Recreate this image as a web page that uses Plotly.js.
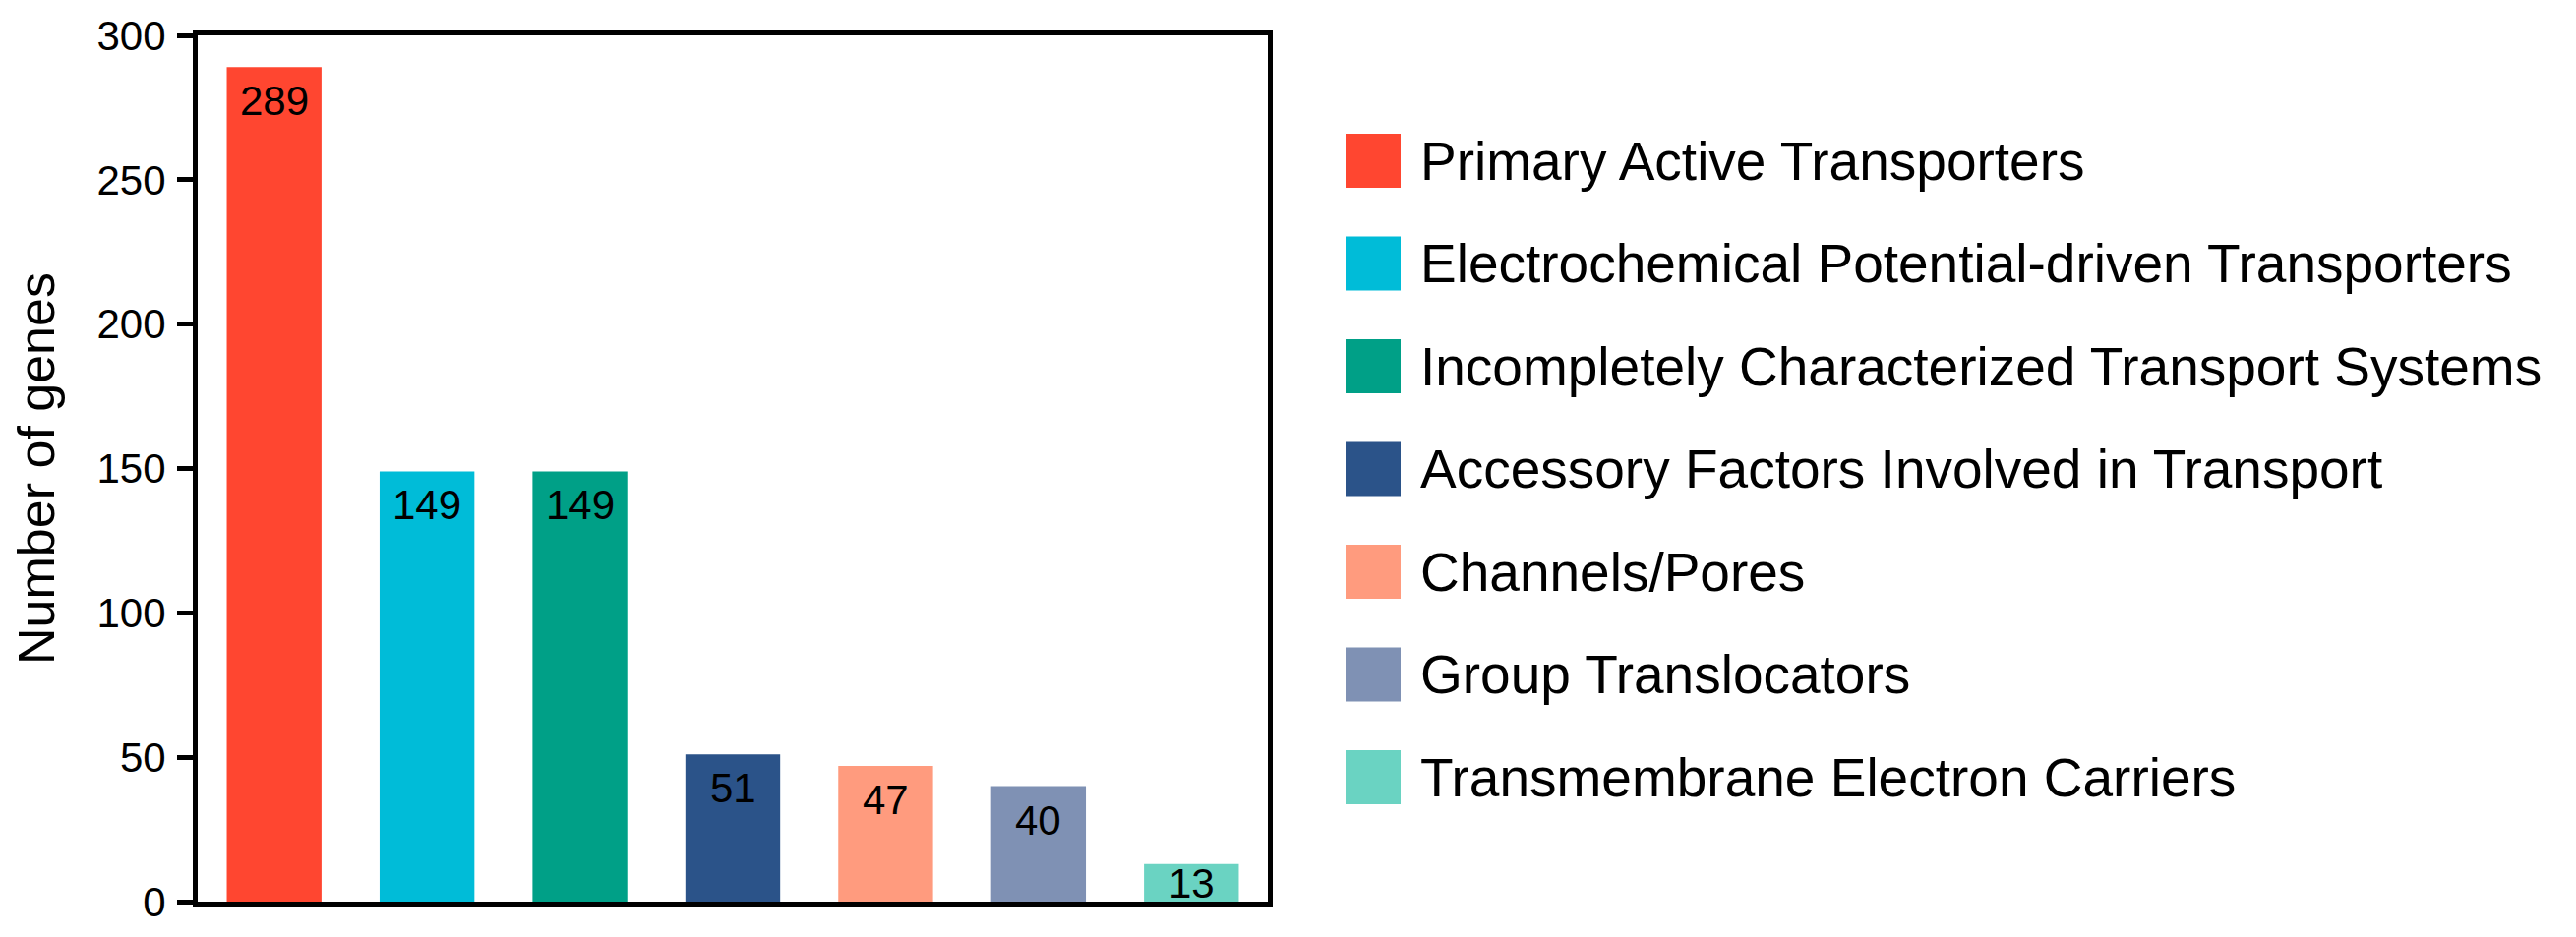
<!DOCTYPE html>
<html>
<head>
<meta charset="utf-8">
<script src="https://cdn.plot.ly/plotly-3.0.1.min.js"></script>
<style>
  html, body { margin: 0; padding: 0; background: #ffffff; }
  #chart { width: 2619px; height: 953px; }
</style>
</head>
<body>
<div id="chart"></div>
<script>
// ---- Data ----
const categories = [
  "Primary Active Transporters",
  "Electrochemical Potential-driven Transporters",
  "Incompletely Characterized Transport Systems",
  "Accessory Factors Involved in Transport",
  "Channels/Pores",
  "Group Translocators",
  "Transmembrane Electron Carriers"
];
const geneCounts = [289, 149, 149, 51, 47, 40, 13];
const barColors = ["#FF4630", "#00BCD8", "#00A087", "#2B5389", "#FF9B7E", "#7F91B4", "#6AD3C2"];
const yTicks = [0, 50, 100, 150, 200, 250, 300];
const yTitle = "Number of genes";

// ---- Layout constants (pixels) ----
const W = 2619, H = 953;
const plotL = 201, plotR = 1289, plotT = 36, plotB = 917;
const FONT = "Arial, 'Liberation Sans', Helvetica, sans-serif";
const xp = px => (px - plotL) / (plotR - plotL);
const yp = py => (plotB - py) / (plotB - plotT);
const pxPerUnit = (plotB - plotT) / 300;

const trace = {
  type: "bar",
  x: categories,
  y: geneCounts,
  marker: { color: barColors, line: { width: 0 } },
  hoverinfo: "x+y",
  showlegend: false
};

const annotations = [];
const shapes = [];

// value labels on bars
geneCounts.forEach((v, i) => {
  const fits = v * pxPerUnit > 60;
  annotations.push({
    x: categories[i], y: v, xref: "x", yref: "y",
    text: String(v), showarrow: false,
    xanchor: "center", yanchor: "top",
    yshift: fits ? -9 : 6,
    font: { family: FONT, size: 42, color: "#000000" }
  });
});

// custom legend (large squares)
const legTop = 163.5, legStep = 104.5, sq = 56, sqX0 = 1368, txtX = 1442;
categories.forEach((c, i) => {
  const yc = legTop + i * legStep;
  shapes.push({
    type: "rect", xref: "paper", yref: "paper",
    x0: xp(sqX0), x1: xp(sqX0 + sq),
    y0: yp(yc + sq / 2 - 0.5), y1: yp(yc - sq / 2 + 0.5),
    fillcolor: barColors[i], line: { width: 0 }
  });
  annotations.push({
    x: xp(txtX), y: yp(yc), xref: "paper", yref: "paper",
    text: c, showarrow: false, xanchor: "left", yanchor: "middle",
    font: { family: FONT, size: 55, color: "#000000" }
  });
});

const layout = {
  width: W, height: H,
  margin: { l: plotL, r: W - plotR, t: plotT, b: H - plotB, pad: 0 },
  paper_bgcolor: "#ffffff",
  plot_bgcolor: "#ffffff",
  font: { family: FONT, color: "#000000" },
  bargap: 0.38,
  xaxis: {
    type: "category",
    showticklabels: false,
    ticks: "",
    showgrid: false,
    zeroline: false,
    showline: true, linecolor: "#000000", linewidth: 5, mirror: true,
    fixedrange: true
  },
  yaxis: {
    range: [0, 300],
    tickvals: yTicks,
    ticktext: yTicks.map(String),
    ticks: "outside", ticklen: 16, tickwidth: 5, tickcolor: "#000000",
    ticklabelstandoff: 3,
    tickfont: { family: FONT, size: 42, color: "#000000" },
    showgrid: false, zeroline: false,
    showline: true, linecolor: "#000000", linewidth: 5, mirror: true,
    title: { text: yTitle, font: { family: FONT, size: 52, color: "#000000" }, standoff: 28 },
    automargin: false,
    fixedrange: true
  },
  shapes: shapes,
  annotations: annotations,
  showlegend: false
};

Plotly.newPlot("chart", [trace], layout, { displayModeBar: false, staticPlot: true });
</script>
</body>
</html>
